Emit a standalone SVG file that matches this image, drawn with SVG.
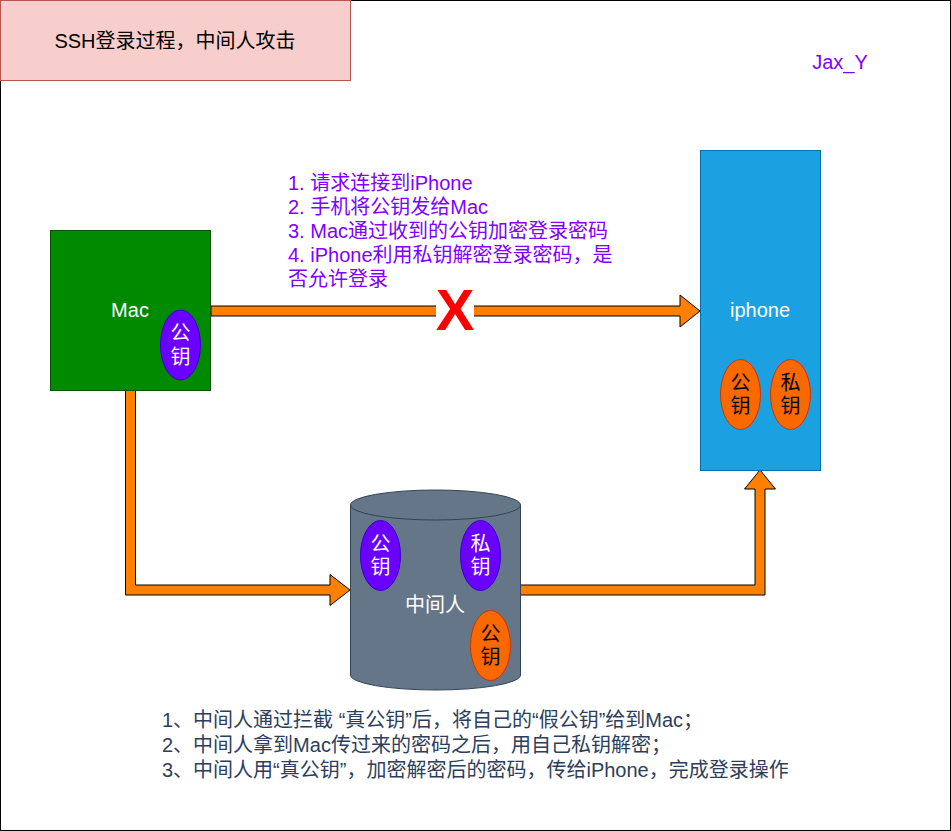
<svg xmlns="http://www.w3.org/2000/svg" width="951" height="831" viewBox="0 0 951 831">
<style>
text{font-family:"Liberation Sans","Noto Sans CJK SC",sans-serif;font-size:20px}
.arrow{fill:#ff8000;stroke:#000;stroke-width:1}
.c{text-anchor:middle}
.w{fill:#fff}
.k{fill:#000}
.pk{fill:#6a00ff;stroke:#3700cc}
.ok{fill:#fa6800;stroke:#c73500}
.purple{fill:#7f00ff}
.slate{fill:#2c3e5c}
</style>
<rect x="0" y="0" width="951" height="831" fill="#fff"/>
<rect x="0.5" y="0.5" width="950" height="830" fill="none" stroke="#000"/>
<g id="title">
<rect x="0.5" y="0.5" width="350" height="80" fill="#f8cecc" stroke="#b85450"/>
<text x="175" y="48" class="c k">SSH登录过程，中间人攻击</text>
</g>
<g id="author"><text x="840" y="69" class="c purple">Jax_Y</text></g>
<g id="connectors">
<polygon class="arrow" points="211,306 680,306 680,295 700,311 680,327 680,316 211,316"/>
<rect x="436" y="290" width="38" height="42" fill="#fff"/>
<text x="455" y="330" class="c" style="font-size:58px;font-weight:bold;fill:#ff0000">X</text>
<polygon class="arrow" points="125.5,390 125.5,595 330,595 330,605.5 350,590 330,574.5 330,585 135.5,585 135.5,390"/>
<polygon class="arrow" points="520,595 765,595 765,489 775.5,489 760,470 744.5,489 755,489 755,585 520,585"/>
</g>
<g id="steps">
<text x="288" y="190" class="purple">1. 请求连接到iPhone</text>
<text x="288" y="214" class="purple">2. 手机将公钥发给Mac</text>
<text x="288" y="238" class="purple">3. Mac通过收到的公钥加密登录密码</text>
<text x="288" y="262" class="purple">4. iPhone利用私钥解密登录密码，是</text>
<text x="288" y="286" class="purple">否允许登录</text>
</g>
<g id="mac">
<rect x="50.5" y="230.5" width="160" height="160" fill="#008a00" stroke="#005700"/>
<text x="130" y="317" class="c w">Mac</text>
<ellipse cx="180.5" cy="345" rx="20" ry="35" class="pk"/>
<text x="180.5" y="340" class="c w">公</text>
<text x="180.5" y="364" class="c w">钥</text>
</g>
<g id="iphone">
<rect x="700.5" y="150.5" width="120" height="320" fill="#1ba1e2" stroke="#006eaf"/>
<text x="760" y="317" class="c w">iphone</text>
<ellipse cx="740.5" cy="394.5" rx="20" ry="35" class="ok"/>
<text x="740.5" y="390" class="c k">公</text>
<text x="740.5" y="413" class="c k">钥</text>
<ellipse cx="790.5" cy="394.5" rx="20" ry="35" class="ok"/>
<text x="790.5" y="390" class="c k">私</text>
<text x="790.5" y="413" class="c k">钥</text>
</g>
<g id="mitm">
<path d="M350.5,505 A85,15 0 0 1 520.5,505 L520.5,675 A85,15 0 0 1 350.5,675 Z" fill="#647687" stroke="#314354"/>
<path d="M350.5,505 A85,15 0 0 0 520.5,505" fill="none" stroke="#314354"/>
<text x="435" y="612" class="c w">中间人</text>
<ellipse cx="380.5" cy="555.5" rx="20" ry="35" class="pk"/>
<text x="380.5" y="551" class="c w">公</text>
<text x="380.5" y="574" class="c w">钥</text>
<ellipse cx="480.5" cy="555.5" rx="20" ry="35" class="pk"/>
<text x="480.5" y="551" class="c w">私</text>
<text x="480.5" y="574" class="c w">钥</text>
<ellipse cx="490.5" cy="645.5" rx="20" ry="35" class="ok"/>
<text x="490.5" y="641" class="c k">公</text>
<text x="490.5" y="664" class="c k">钥</text>
</g>
<g id="notes">
<text x="162" y="727" class="slate">1、中间人通过拦截 “真公钥”后，将自己的“假公钥”给到Mac；</text>
<text x="162" y="752" class="slate">2、中间人拿到Mac传过来的密码之后，用自己私钥解密；</text>
<text x="162" y="777" class="slate">3、中间人用“真公钥”，加密解密后的密码，传给iPhone，完成登录操作</text>
</g>
</svg>
